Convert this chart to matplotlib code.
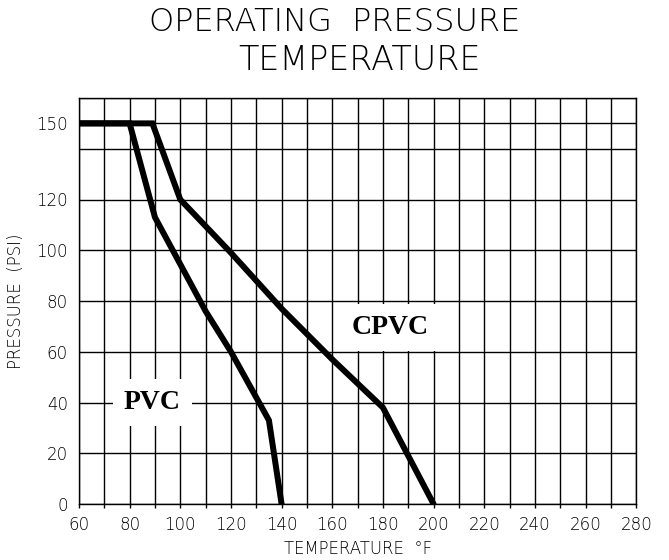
import matplotlib.pyplot as plt
from matplotlib.ticker import MultipleLocator

# Operating pressure vs temperature
pvc_temp = [60, 80, 90, 110, 120, 135, 140]
pvc_psi = [150, 150, 113, 76, 60, 33, 0]

cpvc_temp = [60, 89, 100, 120, 140, 160, 180, 200]
cpvc_psi = [150, 150, 120, 99, 77, 57, 38, 0]

x_ticks = list(range(60, 281, 20))
y_ticks = [0, 20, 40, 60, 80, 100, 120, 150]
y_grid = [0, 20, 40, 60, 80, 100, 120, 140, 150, 160]

fig = plt.figure(figsize=(6.69, 5.6), dpi=100)
ax = fig.add_axes([0.118, 0.1, 0.833, 0.725])

ax.set_xlim(60, 280)
ax.set_ylim(0, 160)

# grid: every 10 deg F vertically, pressure lines horizontally
for x in range(60, 281, 10):
    ax.axvline(x, color='black', lw=1.0, zorder=1)
for y in y_grid:
    ax.axhline(y, color='black', lw=1.0, zorder=1)

ax.plot(pvc_temp, pvc_psi, color='black', lw=4.3, solid_capstyle='round',
        solid_joinstyle='miter', zorder=3)
ax.plot(cpvc_temp, cpvc_psi, color='black', lw=4.3, solid_capstyle='round',
        solid_joinstyle='miter', zorder=3)

box = dict(facecolor='white', edgecolor='none', pad=8)
ax.text(89, 40, 'PVC', family='Liberation Serif', fontweight='bold', fontsize=20,
        ha='center', va='center', bbox=box, zorder=4)
ax.text(182.8, 69.5, 'CPVC', family='Liberation Serif', fontweight='bold', fontsize=20,
        ha='center', va='center', bbox=box, zorder=4)

ax.set_xticks(x_ticks)
ax.set_yticks(y_ticks)
ax.xaxis.set_minor_locator(MultipleLocator(10))
ax.tick_params(axis='x', which='both', direction='out', length=3, width=1,
               labelsize=12, pad=6)
ax.tick_params(axis='y', length=0, labelsize=12, pad=8)
for lab in ax.get_xticklabels() + ax.get_yticklabels():
    lab.set_fontweight('light')
for s in ax.spines.values():
    s.set_linewidth(1.0)

ax.set_xlabel('TEMPERATURE  °F', fontsize=12, fontweight='light', labelpad=4)
ax.set_ylabel('PRESSURE  (PSI)', fontsize=12, fontweight='light', labelpad=8)

fig.text(0.5, 0.96, 'OPERATING  PRESSURE', ha='center', va='center',
         fontsize=23, fontweight='light')
fig.text(0.537, 0.892, 'TEMPERATURE', ha='center', va='center',
         fontsize=24, fontweight='light')

fig.savefig('out.png', dpi=100)
